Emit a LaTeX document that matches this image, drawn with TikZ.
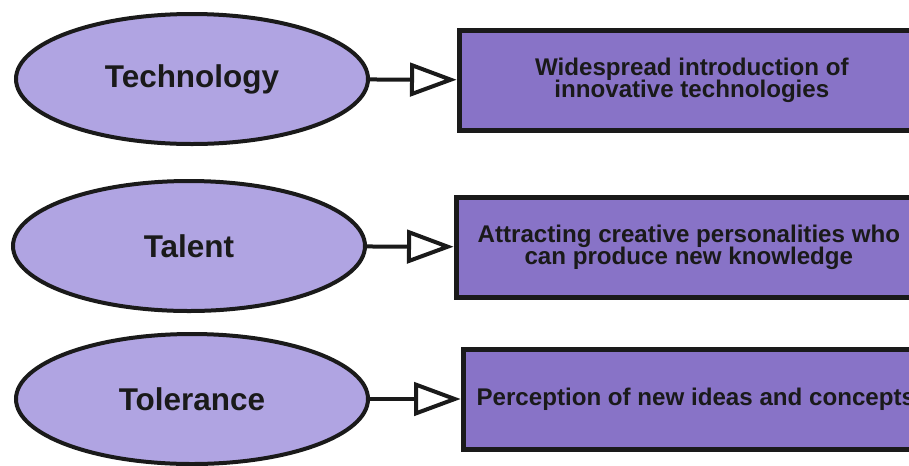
\documentclass[tikz,border=0pt]{standalone}
\usepackage{fontspec}
\setmainfont{Liberation Sans}
\usetikzlibrary{arrows.meta,positioning,shapes.geometric}
\definecolor{TrioOval}{RGB}{176,164,226}
\definecolor{TrioBox}{RGB}{136,115,199}
\definecolor{TrioInk}{RGB}{26,26,26}

\begin{document}
\begin{tikzpicture}[
    x=0.75pt,y=-0.75pt,
    node distance=65pt,
    oval/.style={ellipse,draw=TrioInk,line width=3pt,fill=TrioOval,minimum width=264pt,minimum height=97.5pt,inner sep=0pt,text=TrioInk,font=\fontsize{23.6}{27}\selectfont\bfseries},
    box/.style={draw=TrioInk,line width=3.75pt,fill=TrioBox,minimum height=75pt,minimum width=349pt,align=center,inner sep=0pt,text=TrioInk,font=\fontsize{18.1}{15}\selectfont\bfseries},
    arr/.style={-{Triangle[open,length=35pt,width=25pt]},line width=3pt,draw=TrioInk}
  ]
    \useasboundingbox (0,0) rectangle (909,465);
    \node[oval] (tech) at (192,79) {Technology};
    \node[oval] (talent) at (189,246) {Talent};
    \node[oval] (toler) at (192,399) {Tolerance};
    \node[box,right=of tech,yshift=-1pt] (techbox) {Widespread introduction of\\[-2pt]innovative technologies};
    \node[box,right=of talent,yshift=-1pt] (talentbox) {Attracting creative personalities who\\[-2pt]can produce new knowledge};
    \node[box,right=68pt of toler] (tolerbox) {Perception of new ideas and concepts};
    \draw[arr] (tech) -- (techbox);
    \draw[arr] (talent) -- (talentbox);
    \draw[arr] (toler) -- (tolerbox);
  \end{tikzpicture}
\end{document}
